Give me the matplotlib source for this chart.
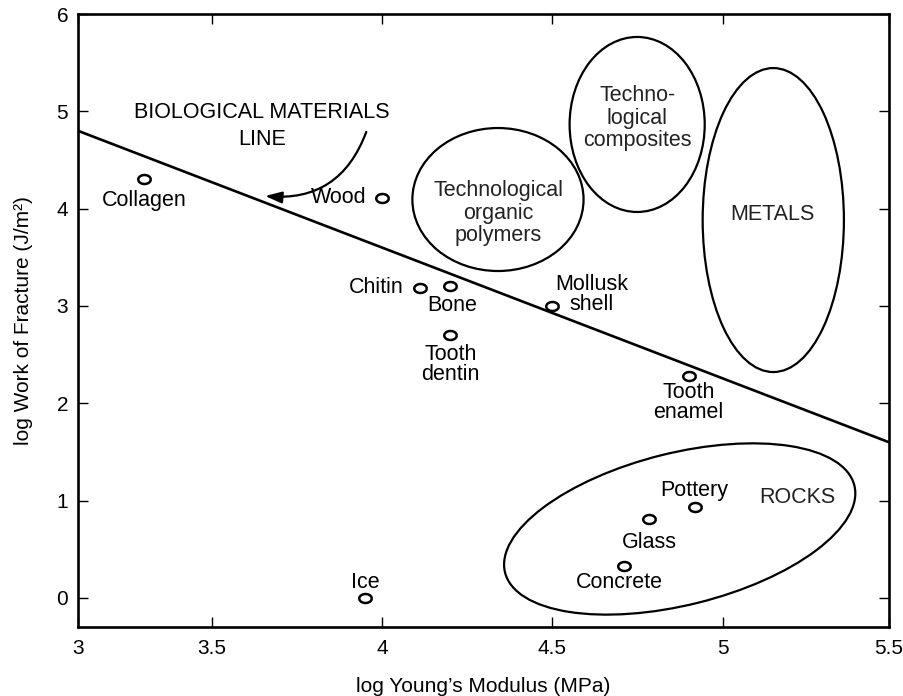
import numpy as np
import matplotlib
matplotlib.use('Agg')
import matplotlib.pyplot as plt
from matplotlib.patches import Ellipse
from matplotlib.transforms import ScaledTranslation

plt.rcParams['font.family'] = ['Liberation Sans', 'DejaVu Sans']

# materials: log Young's modulus (MPa), log work of fracture (J/m2)
names = ['Collagen', 'Wood', 'Chitin', 'Bone', 'Tooth\ndentin', 'Mollusk\nshell',
         'Tooth\nenamel', 'Pottery', 'Glass', 'Concrete', 'Ice']
modulus = [3.30, 4.00, 4.11, 4.20, 4.20, 4.50, 4.90, 4.92, 4.785, 4.71, 3.95]
fracture = [4.30, 4.11, 3.19, 3.21, 2.70, 3.00, 2.28, 0.93, 0.81, 0.33, 0.00]
# label offsets (points)
label_dx = [0, -31, -31, 1, 0, 28, 0, -1, 0, -3, 0]
label_dy = [-15, 0, 0, -14, -21, 8, -19, 12, -16.5, -12, 11.5]

# biological materials line
bio_x = [3.106, 5.489]
bio_y = [4.80, 1.60]

# material groups (axis aligned ellipses): center x, center y, width, height
groups = ['Technological\norganic\npolymers', 'Techno-\nlogical\ncomposites', 'METALS']
grp_cx = [4.340, 4.749, 5.149]
grp_cy = [4.094, 4.865, 3.883]
grp_w = [0.503, 0.397, 0.415]
grp_h = [1.469, 1.798, 3.123]
grp_tx = [4.341, 4.750, 5.147]
grp_ty = [3.955, 4.930, 3.935]

xticks = [3.106, 3.5, 4.0, 4.5, 5.0, 5.489]
xticklabels = ['3', '3.5', '4', '4.5', '5', '5.5']
yticks = [0, 1, 2, 3, 4, 5, 6]

fs = 15.5

fig = plt.figure(figsize=(9.04, 6.96), dpi=100)
ax = fig.add_axes([78/904, 1 - 627/696, (889 - 78)/904, (627 - 14)/696])
ax.set_xlim(3.106, 5.489)
ax.set_ylim(-0.298, 6.0)

ax.plot(bio_x, bio_y, color='black', lw=1.9, solid_capstyle='butt')

for cx, cy, w, h in zip(grp_cx, grp_cy, grp_w, grp_h):
    ax.add_patch(Ellipse((cx, cy), w, h, fill=False, ec='black', lw=1.6))
for txt, tx, ty in zip(groups, grp_tx, grp_ty):
    ax.text(tx, ty, txt, ha='center', va='center', fontsize=fs, linespacing=1.1,
            color='#222222')

# rocks ellipse is tilted on the page, so draw it in inches around its center
rocks = Ellipse((0, 0), 3.60, 1.52, angle=14, fill=False, ec='black', lw=1.6,
                transform=fig.dpi_scale_trans + ScaledTranslation(4.874, 0.709, ax.transData))
ax.add_patch(rocks)
ax.text(5.221, 1.037, 'ROCKS', ha='center', va='center', fontsize=fs, color='#222222')

# small open elliptical markers
t = np.linspace(0, 2*np.pi, 40)
marker = np.column_stack([np.cos(t), 0.72*np.sin(t)])
ax.plot(modulus, fracture, ls='none', marker=marker, ms=9, mfc='white',
        mec='black', mew=1.8)

for n, x, y, dx, dy in zip(names, modulus, fracture, label_dx, label_dy):
    ax.annotate(n, (x, y), xytext=(dx, dy), textcoords='offset points',
                ha='center', va='center', fontsize=fs, linespacing=0.95)

ax.text(3.647, 4.849, 'BIOLOGICAL MATERIALS\nLINE', ha='center', va='center',
        fontsize=fs, linespacing=1.35)
ax.annotate('', xy=(3.656, 4.130), xytext=(3.953, 4.788),
            arrowprops=dict(arrowstyle='-|>,head_length=1.0,head_width=0.35',
                            connectionstyle='arc3,rad=-0.38', color='black', lw=1.6,
                            shrinkA=0, shrinkB=0))

ax.set_xticks(xticks)
ax.set_xticklabels(xticklabels)
ax.xaxis.get_ticklabels()[-1].set_fontsize(13.5)
ax.set_yticks(yticks)
ax.tick_params(direction='in', length=7, width=1, top=True, right=True,
               labelsize=15)
ax.tick_params(axis='x', pad=9)
ax.tick_params(axis='y', pad=7)
for s in ax.spines.values():
    s.set_linewidth(1.9)

ax.set_xlabel('log Young\u2019s Modulus (MPa)', fontsize=15, labelpad=13)
ax.set_ylabel('log Work of Fracture (J/m\u00b2)', fontsize=15, labelpad=17)

fig.savefig('out.png', dpi=100)
